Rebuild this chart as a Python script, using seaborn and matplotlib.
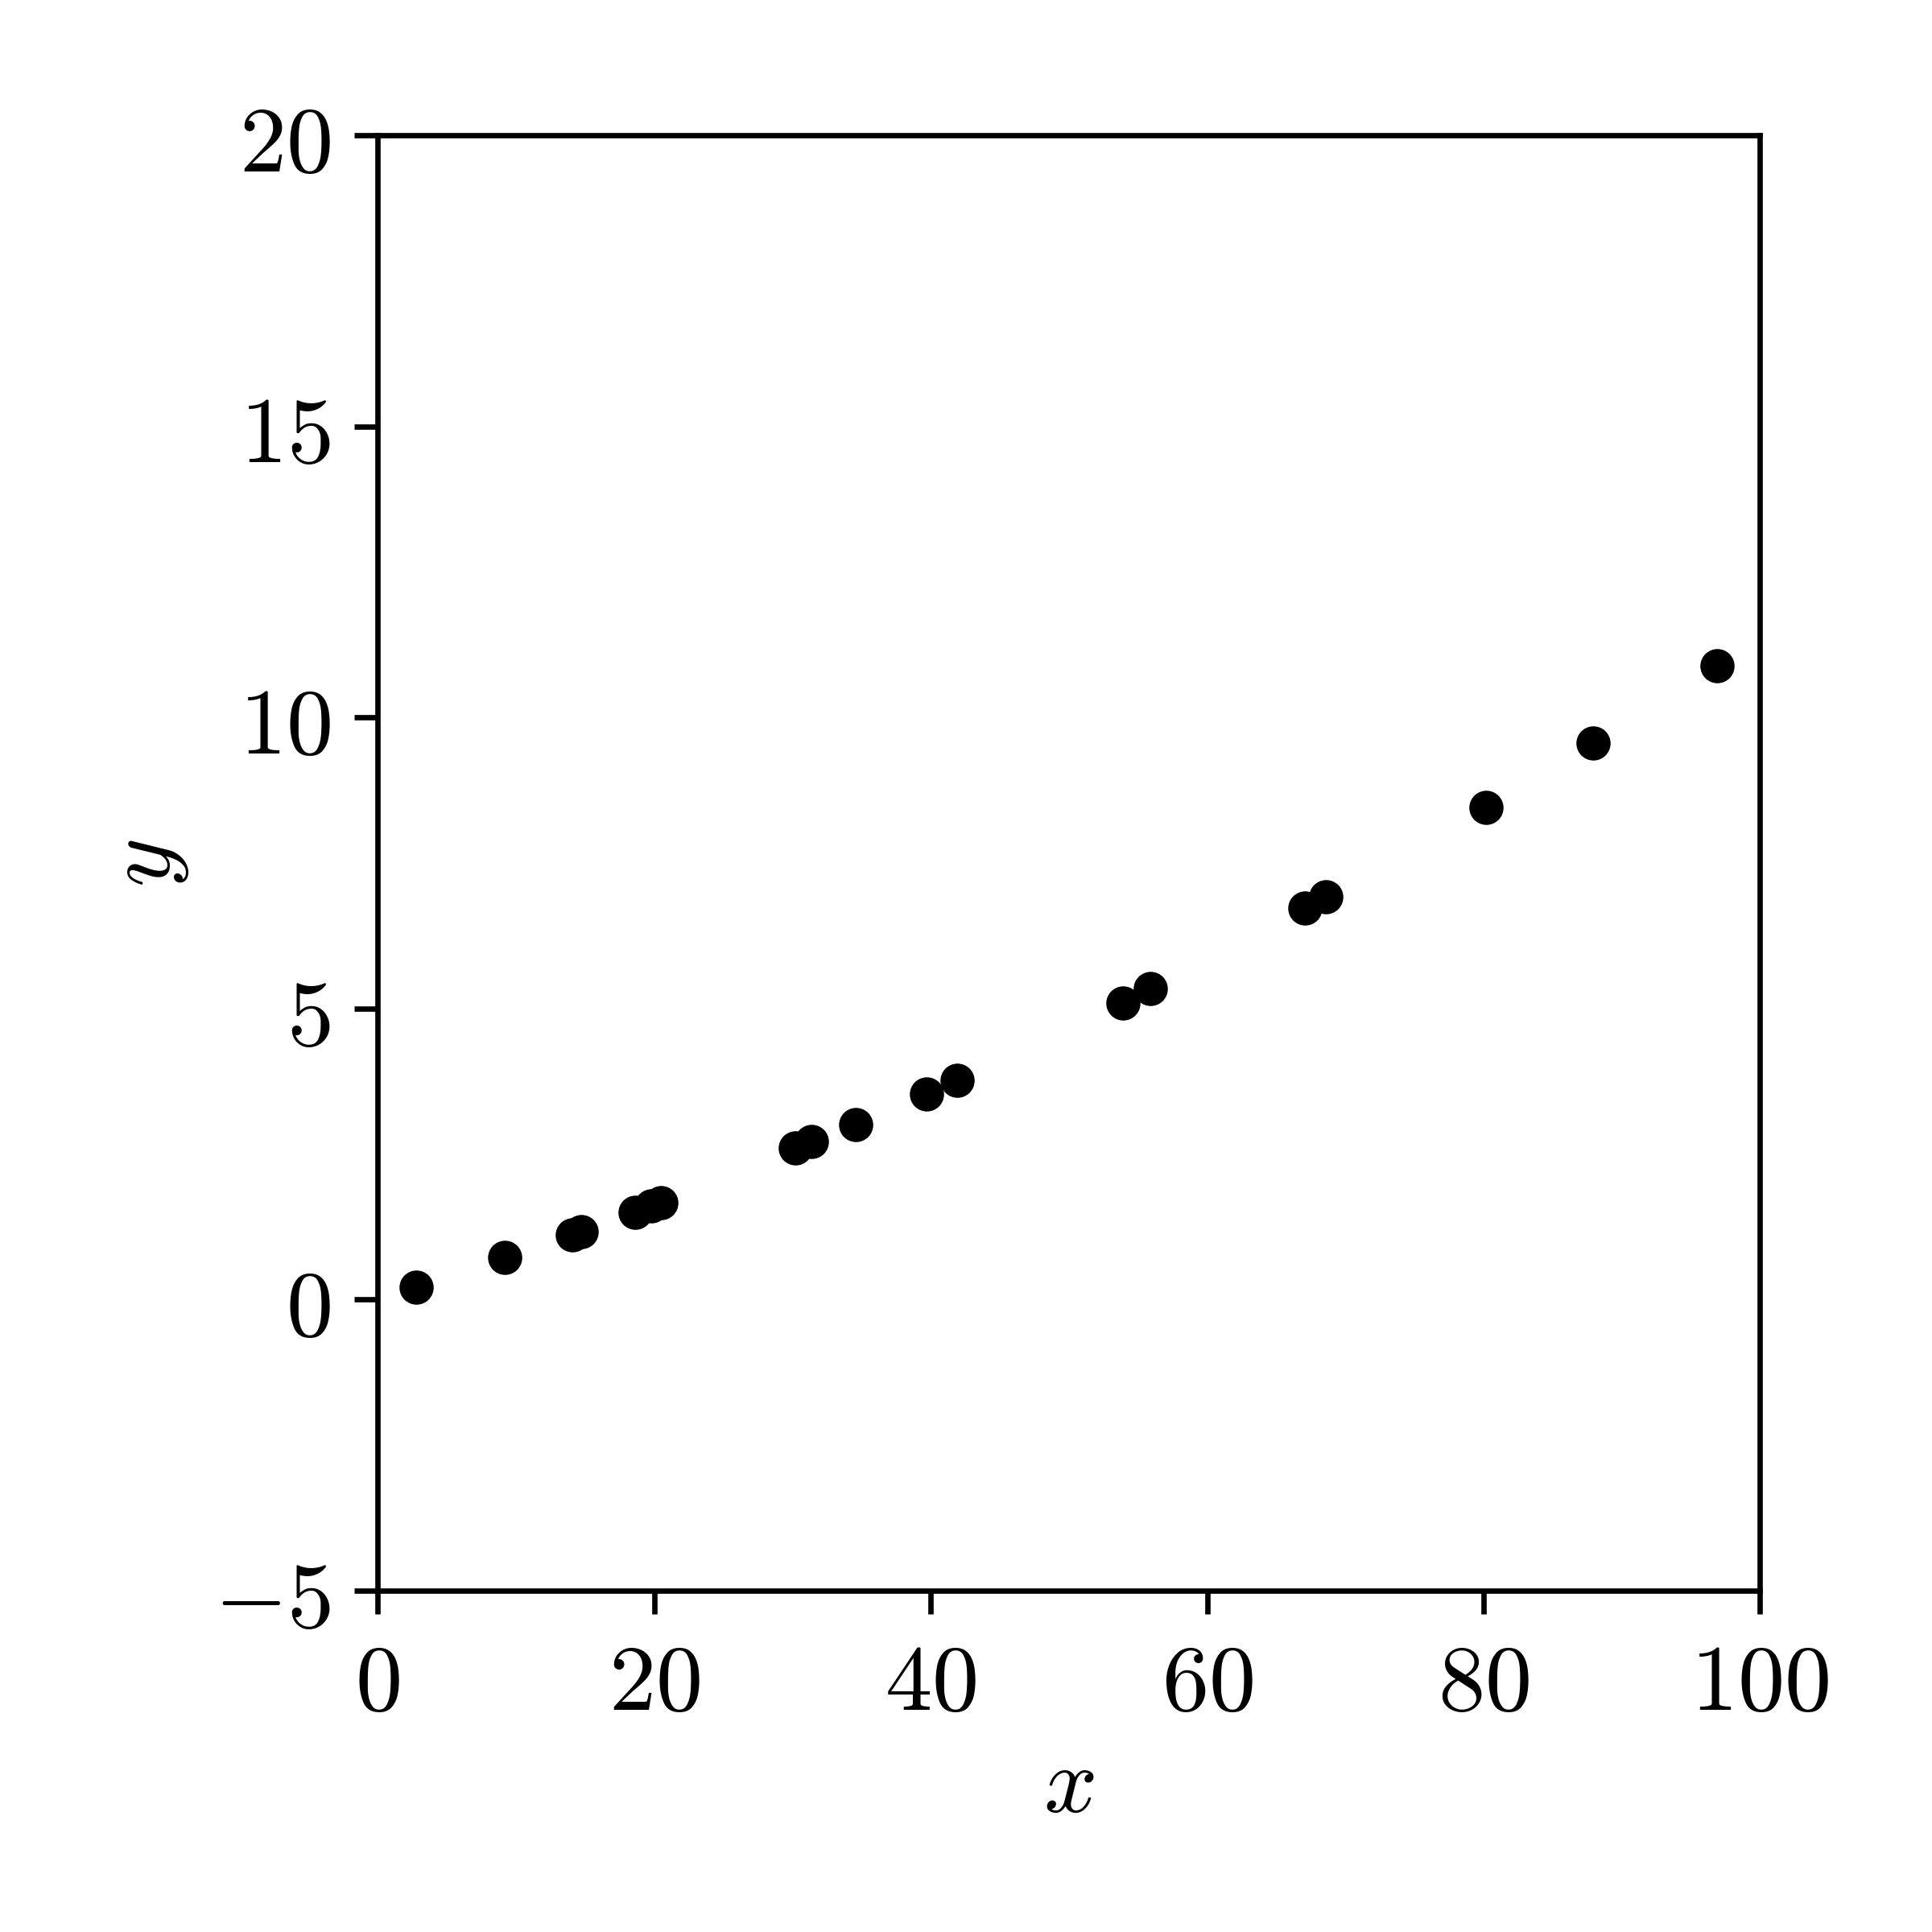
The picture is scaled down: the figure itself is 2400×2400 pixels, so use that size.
import numpy as np
import pandas as pd
import matplotlib
matplotlib.use("Agg")
import matplotlib.pyplot as plt
import seaborn as sns

# ─── DATA ───────────────────────────────────────────────────────────────────────
x_vals = [2.8, 9.2, 14.1, 14.7, 18.6, 19.8, 20.5, 30.2, 31.4, 34.6,
          39.7, 41.9, 53.9, 55.9, 67.1, 68.6, 80.2, 87.9, 96.9]
y_vals = [0.21, 0.72, 1.11, 1.17, 1.50, 1.61, 1.66, 2.60, 2.71, 3.00,
          3.53, 3.76, 5.10, 5.34, 6.72, 6.92, 8.46, 9.56, 10.89]

x_ticks = [0, 20, 40, 60, 80, 100]
y_ticks = [-5, 0, 5, 10, 15, 20]

# ─── STYLE ──────────────────────────────────────────────────────────────────────
sns.set_style("ticks", {"axes.edgecolor": "black", "text.color": "black",
                        "xtick.color": "black", "ytick.color": "black",
                        "axes.labelcolor": "black"})
plt.rcParams["mathtext.fontset"] = "cm"
plt.rcParams["font.family"] = ["DejaVu Serif"]
plt.rcParams["axes.linewidth"] = 0.8

df = pd.DataFrame({"x": x_vals, "y": y_vals})

fig, ax = plt.subplots(figsize=(4, 4), dpi=600)
fig.subplots_adjust(left=0.1955, right=0.911, bottom=0.1767, top=0.93)

sns.scatterplot(data=df, x="x", y="y", ax=ax, color="black",
                s=26, linewidth=0, legend=False)

ax.set_xlim(0, 100)
ax.set_ylim(-5, 20)
ax.set_xticks(x_ticks)
ax.set_yticks(y_ticks)
ax.set_xticklabels([f"${t}$" for t in x_ticks], fontsize=14)
ax.set_yticklabels([f"${t}$" for t in y_ticks], fontsize=14)
ax.tick_params(width=0.8, length=3.5, direction="out", colors="black")
for side in ["top", "right"]:
    ax.spines[side].set_visible(True)

ax.set_xlabel("$x$", fontsize=14, labelpad=1.5)
ax.set_ylabel("$y$", fontsize=14, labelpad=3.5)

fig.savefig("out.png", dpi=600, facecolor="white")
